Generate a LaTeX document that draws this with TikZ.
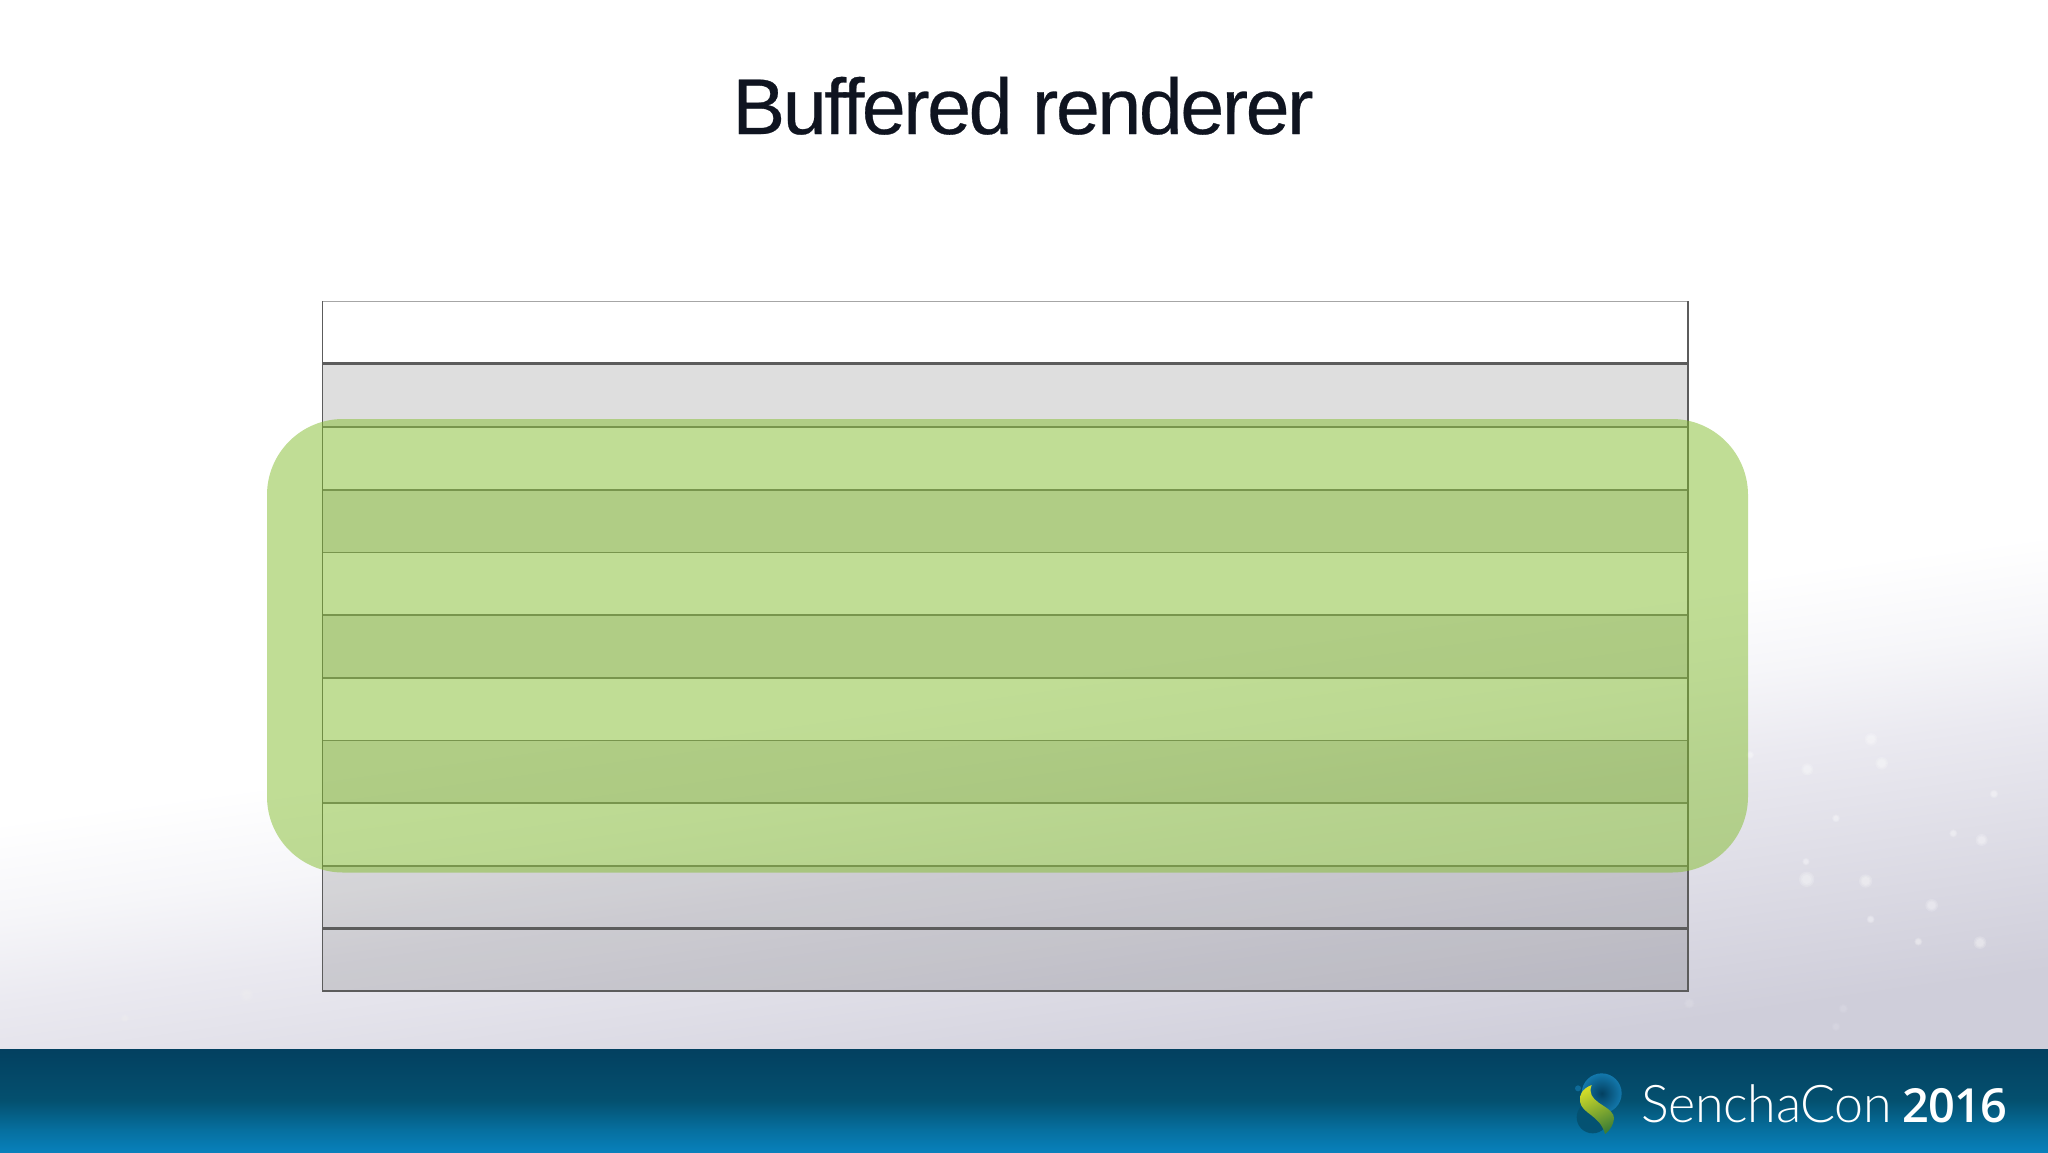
\documentclass[tikz,border=0pt]{standalone}
\usepackage{fontspec}
\setmainfont{Liberation Sans}
\newfontfamily\titlefont[LetterSpace=-3.1,FakeBold=0.35]{Liberation Sans}
\newfontfamily\senlight[LetterSpace=-0.6]{Lato Light}
\newfontfamily\senbold[LetterSpace=-1.5]{Open Sans Semibold}
\definecolor{titleink}{HTML}{0F1420}
\definecolor{bgA}{HTML}{CFCEDA}
\definecolor{bgB}{HTML}{EAE9F0}
\definecolor{bgC}{HTML}{F6F6F9}
\definecolor{ftA}{HTML}{0880BB}
\definecolor{ftB}{HTML}{0670A0}
\definecolor{ftC}{HTML}{04506F}
\definecolor{ftD}{HTML}{034060}
\definecolor{zoneGreen}{RGB}{131,189,45}
\definecolor{rowline}{HTML}{5C5C5C}
\definecolor{softline}{HTML}{6E6E6E}
\definecolor{leafA}{HTML}{D2DC28}
\definecolor{leafB}{HTML}{86BC35}
\definecolor{leafC}{HTML}{3F7F35}
\definecolor{orbEdge}{HTML}{1378AC}
\pgfdeclareverticalshading{slidebg}{100bp}{color(0bp)=(bgA); color(25bp)=(bgA); color(35.75bp)=(bgB); color(39.5bp)=(bgC); color(43.5bp)=(white); color(100bp)=(white)}
\pgfdeclareverticalshading{footerbg}{100bp}{color(0bp)=(ftA); color(25bp)=(ftA); color(35.5bp)=(ftB); color(50bp)=(ftC); color(75bp)=(ftD); color(100bp)=(ftD)}
\newcommand{\softdot}[4]{%
  \fill[white,fill opacity=#4] (#1,#2) circle[radius=#3];
  \fill[white,fill opacity=#4] (#1,#2) circle[radius=.8*#3];
  \fill[white,fill opacity=#4] (#1,#2) circle[radius=.6*#3];}
\tikzset{
  greyrow/.style={fill=black!80,fill opacity=.16},
  rowrule/.style={draw=softline,line width=1.3pt},
  zone/.style={fill=zoneGreen,fill opacity=.5,rounded corners=76pt},
}
\begin{document}
\begin{tikzpicture}[x=1pt,y=-1pt]
\useasboundingbox (0,0) rectangle (2048,1152);
\fill[white] (0,0) rectangle (2048,1152);
% slide background
\shade[shading=slidebg,shading angle=8] (0,0) rectangle (2048,1049);
% sparkles
\begin{scope}[shift={(1600,780)},x=.3333pt,y=-.3333pt]
\foreach \px/\py/\r in {708/115/12,1060/160/12,1145/180/18,620/298/23,797/303/20,618/245/11,995/376/19,812/418/12,955/485/12,1140/488/19}
  {\softdot{\px}{\py}{\r}{.17}}
\foreach \px/\py/\r in {730/686/14,708/740/13,268/670/16}
  {\softdot{\px}{\py}{\r}{.06}}
\end{scope}
\begin{scope}[shift={(1700,500)},x=.3333pt,y=-.3333pt]
\foreach \px/\py/\r in {513/718/19,545/790/19,322/808/18,882/882/13,150/765/12}
  {\softdot{\px}{\py}{\r}{.17}}
\end{scope}
\begin{scope}[shift={(0,640)},x=.3333pt,y=-.3333pt]
\foreach \px/\py/\r in {155/805/16,515/900/14,325/950/14,740/1065/20,375/1135/13}
  {\softdot{\px}{\py}{\r}{.05}}
\end{scope}
% table rows
\fill[white] (322.5,301.5) rectangle (1688,363.5);
\foreach \ya/\yb in {363.5/427,490/552.5,615/678,740.5/803,866/928.5,928.5/991}
  \fill[greyrow] (322.5,\ya) rectangle (1688,\yb);
\foreach \yy in {427,490,552.5,615,678,740.5,803,866}
  \draw[rowrule] (322.5,\yy) -- (1688,\yy);
\draw[draw=rowline,line width=2.6pt] (322.5,363.5) -- (1688,363.5);
\draw[draw=rowline,line width=2.2pt] (322.5,928.5) -- (1688,928.5);
\draw[draw=rowline,line width=1.8pt] (322.5,991) -- (1688,991);
\draw[draw=black!35,line width=1.5pt] (322.5,301.5) -- (1688,301.5);
\draw[draw=rowline,line width=1.5pt] (322.5,301) -- (322.5,991.5);
\draw[draw=rowline,line width=1.5pt] (1688,301) -- (1688,991.5);
% green window
\fill[zone] (267,419) rectangle (1748,872.5);
% title
\node[anchor=base,inner sep=0pt,text=titleink,font=\titlefont\fontsize{79}{90}\selectfont] (title) at (1023,134) {Buffered renderer};
% footer
\shade[shading=footerbg] (0,1049) rectangle (2048,1152);
% logo
\begin{scope}[shift={(1560,1060)},x=.3333pt,y=-.3333pt]
\fill[fill=ftC,fill opacity=.9] (98,172) circle[radius=48];
\shade[inner color=ftD,outer color=orbEdge] (125,100) circle[radius=60];
\fill[fill=orbEdge,fill opacity=.7] (54,85) circle[radius=9];
\shade[top color=leafA,middle color=leafB,bottom color=leafC,shading angle=25]
  (95,75) .. controls (68,85) and (56,105) .. (60,125)
  .. controls (66,162) and (120,165) .. (135,222)
  .. controls (150,212) and (167,185) .. (160,165)
  .. controls (148,135) and (75,125) .. (95,75) -- cycle;
\end{scope}
% footer text
\node[anchor=base west,inner sep=0pt,text=white,font=\senlight\fontsize{52}{60}\selectfont] (sencha) at (1641,1122) {SenchaCon};
\node[anchor=base west,inner sep=0pt,text=white,font=\senbold\fontsize{47}{56}\selectfont] (year) at (1902,1122) {2016};
\end{tikzpicture}
\end{document}
